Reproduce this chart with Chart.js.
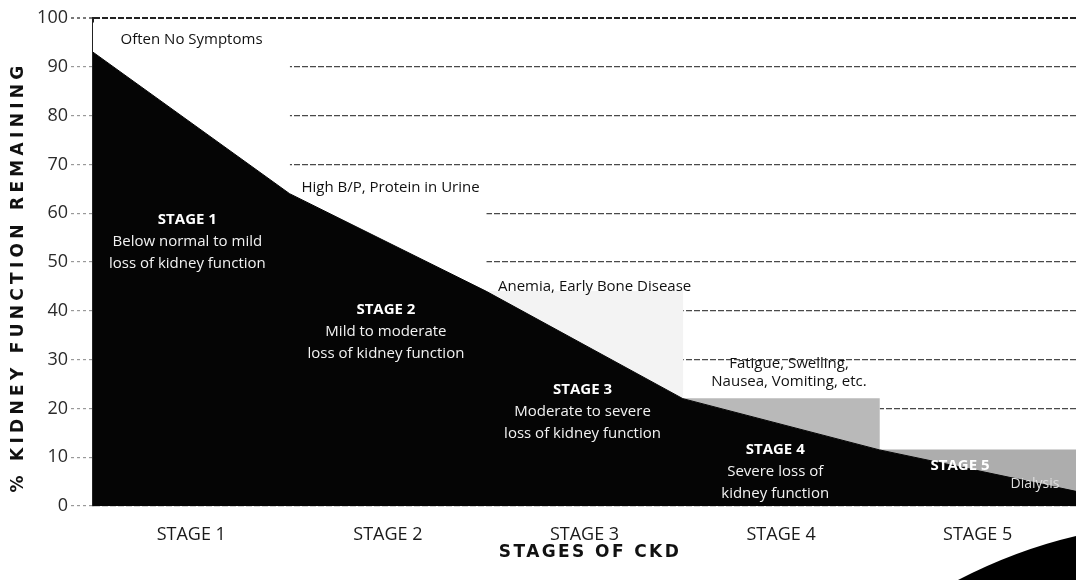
<!DOCTYPE html>
<html>
<head>
<meta charset="utf-8">
<script src="https://cdn.jsdelivr.net/npm/chart.js@4"></script>
<style>
  html, body { margin: 0; padding: 0; background: #fff; }
  #wrap { width: 1076px; height: 580px; position: relative; }
</style>
</head>
<body>
<div id="wrap"><canvas id="ckdChart"></canvas></div>
<script>
// --- data ---
const stages = ['STAGE 1', 'STAGE 2', 'STAGE 3', 'STAGE 4', 'STAGE 5'];

// kidney function curve, x in stage units (0 = left edge, 5 = right edge)
const curveX = [0, 1, 2, 3, 4, 5];
const curveY = [93, 64, 44, 22, 11.5, 3];

// white step behind each stage (hides grid lines), and grey stage blocks
const maskTop  = [99, 67, 47, 28, 15];
const shadeTop = [null, null, 44, 22, 11.5];

const yMin = 0, yMax = 100, yStep = 10;

const symptoms = [
    ['Often No Symptoms'],
    ['High B/P, Protein in Urine'],
    ['Anemia, Early Bone Disease'],
    ['Fatigue, Swelling,', 'Nausea, Vomiting, etc.'],
];
const stageText = [
    ['STAGE 1', 'Below normal to mild', 'loss of kidney function'],
    ['STAGE 2', 'Mild to moderate', 'loss of kidney function'],
    ['STAGE 3', 'Moderate to severe', 'loss of kidney function'],
    ['STAGE 4', 'Severe loss of', 'kidney function'],
    ['STAGE 5', 'Dialysis'],
];

// --- where the notes sit (x in stage units, y in % units) ---
const symptomPos = [
    { x: 0.14, y: 95.5, align: 'left' },
    { x: 1.06, y: 65.2, align: 'left' },
    { x: 2.06, y: 45.0, align: 'left' },
    { x: 3.54, y: 29.2, align: 'center' },
];
const stagePos = [
    { x: 0.48, y: 58.6 },
    { x: 1.49, y: 40.2 },
    { x: 2.49, y: 23.8 },
    { x: 3.47, y: 11.6 },
    { x: 4.41, y: 8.2 },
];

const FONT = '"Open Sans", "Liberation Sans", sans-serif';
const LINE_H = 22;

const notesPlugin = {
    id: 'notes',
    afterDatasetsDraw(chart) {
        const ctx = chart.ctx;
        const xs = chart.scales.x2, ys = chart.scales.y;
        ctx.save();
        ctx.textBaseline = 'middle';

        // symptom notes, dark on white
        ctx.fillStyle = '#111';
        ctx.font = '15px ' + FONT;
        symptoms.forEach((lines, i) => {
            const p = symptomPos[i];
            ctx.textAlign = p.align;
            lines.forEach((t, j) => {
                ctx.fillText(t, xs.getPixelForValue(p.x), ys.getPixelForValue(p.y) + j * 18);
            });
        });

        // stage notes, white on black
        ctx.textAlign = 'center';
        stageText.forEach((lines, i) => {
            const p = stagePos[i];
            const px = xs.getPixelForValue(p.x);
            const py = ys.getPixelForValue(p.y);
            lines.forEach((t, j) => {
                if (j === 0) {
                    ctx.font = 'bold 15px ' + FONT;
                    ctx.fillStyle = '#fff';
                    ctx.fillText(t, px, py);
                } else if (i === 4) {
                    ctx.font = '14px ' + FONT;
                    ctx.fillStyle = '#ddd';
                    ctx.fillText(t, px + 75, py + 18);
                } else {
                    ctx.font = '15px ' + FONT;
                    ctx.fillStyle = '#f2f2f2';
                    ctx.fillText(t, px, py + j * LINE_H);
                }
            });
        });
        ctx.restore();
    },
    afterDraw(chart) {
        const ctx = chart.ctx;
        const w = chart.width, h = chart.height;
        ctx.save();
        ctx.fillStyle = '#111';
        ctx.font = 'bold 17px "DejaVu Sans", sans-serif';
        ctx.textAlign = 'center';
        ctx.textBaseline = 'middle';

        // y axis title
        ctx.letterSpacing = '4.3px';
        ctx.translate(19, 277);
        ctx.rotate(-Math.PI / 2);
        ctx.fillText('% KIDNEY FUNCTION REMAINING', 0, 0);
        ctx.restore();

        // x axis title
        ctx.save();
        ctx.fillStyle = '#111';
        ctx.font = 'bold 17px "DejaVu Sans", sans-serif';
        ctx.textAlign = 'center';
        ctx.textBaseline = 'middle';
        ctx.letterSpacing = '2.4px';
        ctx.fillText('STAGES OF CKD', 590, 553);
        ctx.restore();

        // decorative swoosh in the bottom right corner
        ctx.save();
        ctx.fillStyle = '#000';
        ctx.beginPath();
        ctx.moveTo(w - 118, h);
        ctx.quadraticCurveTo(w - 60, h - 30, w, h - 44);
        ctx.lineTo(w, h);
        ctx.closePath();
        ctx.fill();
        ctx.restore();
    }
};

const ctx = document.getElementById('ckdChart').getContext('2d');

new Chart(ctx, {
    type: 'bar',
    data: {
        labels: stages,
        datasets: [
            {
                // kidney function remaining
                type: 'line',
                xAxisID: 'x2',
                data: curveX.map((x, i) => ({ x: x, y: curveY[i] })),
                borderColor: '#050505',
                backgroundColor: '#050505',
                borderWidth: 1,
                pointRadius: 0,
                tension: 0,
                fill: 'origin',
                order: 0
            },
            {
                // grey stage blocks
                data: shadeTop.map(v => v === null ? null : [0, v]),
                backgroundColor: ['#fff', '#fff', '#f3f3f3', '#b9b9b9', '#adadad'],
                borderWidth: 0,
                grouped: false,
                barPercentage: 1,
                categoryPercentage: 1,
                order: 1
            },
            {
                // white steps that hide the grid
                data: maskTop.map(v => [0, v]),
                backgroundColor: '#fff',
                borderWidth: 0,
                grouped: false,
                barPercentage: 1,
                categoryPercentage: 1,
                order: 2
            }
        ]
    },
    options: {
        responsive: true,
        maintainAspectRatio: false,
        animation: false,
        layout: { padding: { top: 18, right: 0, left: 0, bottom: 0 } },
        plugins: {
            legend: { display: false },
            tooltip: { enabled: false }
        },
        scales: {
            x: {
                type: 'category',
                offset: true,
                grid: { display: false },
                border: { display: false },
                ticks: {
                    padding: 10,
                    color: '#1a1a1a',
                    font: { family: FONT, size: 18 }
                },
                afterFit(scale) { scale.height = 74; }
            },
            x2: {
                type: 'linear',
                min: 0,
                max: stages.length,
                offset: false,
                grid: { offset: false },
                display: false
            },
            y: {
                min: yMin,
                max: yMax,
                ticks: {
                    stepSize: yStep,
                    padding: 3,
                    color: '#2a2a2a',
                    font: { family: FONT, size: 18 }
                },
                grid: {
                    color: c => c.tick && c.tick.value === yMax ? '#222' : '#4a4a4a',
                    lineWidth: c => c.tick && c.tick.value === yMax ? 2 : 1.2,
                    tickLength: 22,
                    tickColor: c => c.tick && c.tick.value === yMax ? '#222' : '#999',
                    tickBorderDash: [3, 3],
                    tickWidth: 1.2
                },
                border: { display: true, color: '#222', width: 2, dash: [6, 2] },
                afterFit(scale) { scale.width = 93; }
            }
        }
    },
    plugins: [notesPlugin]
});
</script>
</body>
</html>
